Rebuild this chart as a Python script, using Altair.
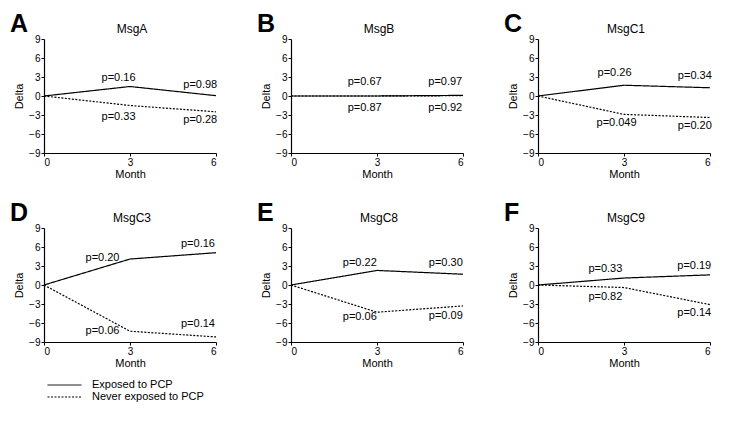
import altair as alt
import pandas as pd

FONT = "Liberation Sans"

panels = ["MsgA", "MsgB", "MsgC1", "MsgC3", "MsgC8", "MsgC9"]
letters = ["A", "B", "C", "D", "E", "F"]
months = [0, 3, 6]
groups = ["Exposed to PCP", "Never exposed to PCP"]

exposed = {
    "MsgA": [0, 1.5, 0.05],
    "MsgB": [0, 0.0, 0.1],
    "MsgC1": [0, 1.7, 1.3],
    "MsgC3": [0, 4.1, 5.1],
    "MsgC8": [0, 2.3, 1.7],
    "MsgC9": [0, 1.1, 1.6],
}
never = {
    "MsgA": [0, -1.5, -2.5],
    "MsgB": [0, 0.0, 0.05],
    "MsgC1": [0, -2.9, -3.4],
    "MsgC3": [0, -7.3, -8.2],
    "MsgC8": [0, -4.3, -3.3],
    "MsgC9": [0, -0.4, -3.1],
}

# p-value annotations: text, month position, delta position
p_text = {
    "MsgA": ["p=0.16", "p=0.98", "p=0.33", "p=0.28"],
    "MsgB": ["p=0.67", "p=0.97", "p=0.87", "p=0.92"],
    "MsgC1": ["p=0.26", "p=0.34", "p=0.049", "p=0.20"],
    "MsgC3": ["p=0.20", "p=0.16", "p=0.06", "p=0.14"],
    "MsgC8": ["p=0.22", "p=0.30", "p=0.06", "p=0.09"],
    "MsgC9": ["p=0.33", "p=0.19", "p=0.82", "p=0.14"],
}
p_x = {
    "MsgA": [2.6, 5.45, 2.6, 5.45],
    "MsgB": [2.57, 5.38, 2.57, 5.38],
    "MsgC1": [2.67, 5.47, 2.74, 5.47],
    "MsgC3": [2.04, 5.37, 2.04, 5.37],
    "MsgC8": [2.4, 5.4, 2.4, 5.4],
    "MsgC9": [2.35, 5.45, 2.35, 5.45],
}
p_y = {
    "MsgA": [2.8, 1.7, -3.3, -3.8],
    "MsgB": [2.2, 2.2, -1.9, -1.9],
    "MsgC1": [3.6, 3.1, -4.3, -4.8],
    "MsgC3": [4.2, 6.4, -7.3, -6.2],
    "MsgC8": [3.4, 3.4, -5.1, -4.9],
    "MsgC9": [2.6, 3.0, -1.9, -4.4],
}

y_ticks = [-9, -6, -3, 0, 3, 6, 9]

rows = []
for p in panels:
    for m, e, n in zip(months, exposed[p], never[p]):
        rows.append({"panel": p, "Month": m, "Delta": e, "group": groups[0]})
        rows.append({"panel": p, "Month": m, "Delta": n, "group": groups[1]})
df = pd.DataFrame(rows)

lab_rows = []
for p in panels:
    for t, x, y in zip(p_text[p], p_x[p], p_y[p]):
        lab_rows.append({"panel": p, "Month": x, "Delta": y, "txt": t})
labdf = pd.DataFrame(lab_rows)

W, H = 172, 114


def panel(name, letter, show_legend):
    xs = alt.Scale(domain=[0, 6], nice=False)
    ys = alt.Scale(domain=[-9, 9], nice=False)
    xa = alt.Axis(values=months, title="Month", format="d")
    ya = alt.Axis(values=y_ticks, title="Delta", format="d")
    if show_legend:
        legend = alt.Legend(
            title=None,
            orient="none",
            legendX=3,
            legendY=340,
            symbolType="stroke",
            symbolSize=1156,
            symbolStrokeWidth=1,
            symbolStrokeColor="black",
            labelFont=FONT,
            labelFontSize=11,
            labelColor="black",
            labelOffset=10,
            rowPadding=0,
            clipHeight=12,
        )
    else:
        legend = None
    lines = (
        alt.Chart(df[df.panel == name])
        .mark_line(color="black", strokeWidth=1.2)
        .encode(
            x=alt.X("Month:Q", scale=xs, axis=xa),
            y=alt.Y("Delta:Q", scale=ys, axis=ya),
            strokeDash=alt.StrokeDash(
                "group:N",
                scale=alt.Scale(domain=groups, range=[[1, 0], [2, 1.5]]),
                legend=legend,
            ),
            detail="group:N",
        )
    )
    labels = (
        alt.Chart(labdf[labdf.panel == name])
        .mark_text(font=FONT, fontSize=11, color="black", align="center", baseline="middle")
        .encode(
            x=alt.X("Month:Q", scale=xs, axis=xa),
            y=alt.Y("Delta:Q", scale=ys, axis=ya),
            text="txt:N",
        )
    )
    heads = pd.DataFrame({"t": [letter], "name": [name]})
    letter_mark = (
        alt.Chart(heads)
        .mark_text(font=FONT, fontSize=25, fontWeight="bold", color="black",
                   align="left", baseline="alphabetic")
        .encode(x=alt.value(-34), y=alt.value(-7), text="t:N")
    )
    title_mark = (
        alt.Chart(heads)
        .mark_text(font=FONT, fontSize=12, color="black",
                   align="center", baseline="middle")
        .encode(x=alt.value(W / 2 + 2), y=alt.value(-10), text="name:N")
    )
    return alt.layer(lines, labels, letter_mark, title_mark).properties(width=W, height=H)


charts = [panel(p, l, i == 0) for i, (p, l) in enumerate(zip(panels, letters))]

chart = (
    alt.concat(*charts, columns=3, spacing=75)
    .properties(bounds="flush", padding={"left": 2, "top": 4, "right": 5, "bottom": 5})
    .configure_view(stroke=None)
    .configure_axis(
        domainColor="black",
        domainWidth=1.2,
        tickColor="black",
        tickSize=3,
        grid=False,
        labelFont=FONT,
        labelFontSize=10,
        labelColor="black",
        titleFont=FONT,
        titleFontSize=11,
        titleFontWeight="normal",
        titleColor="black",
        labelPadding=1,
        labelOverlap=False,
    )
    .configure_axisY(titlePadding=4)
    .configure_axisX(titlePadding=1)
)

chart.save("out.html", embed_options={"renderer": "svg", "actions": False})
